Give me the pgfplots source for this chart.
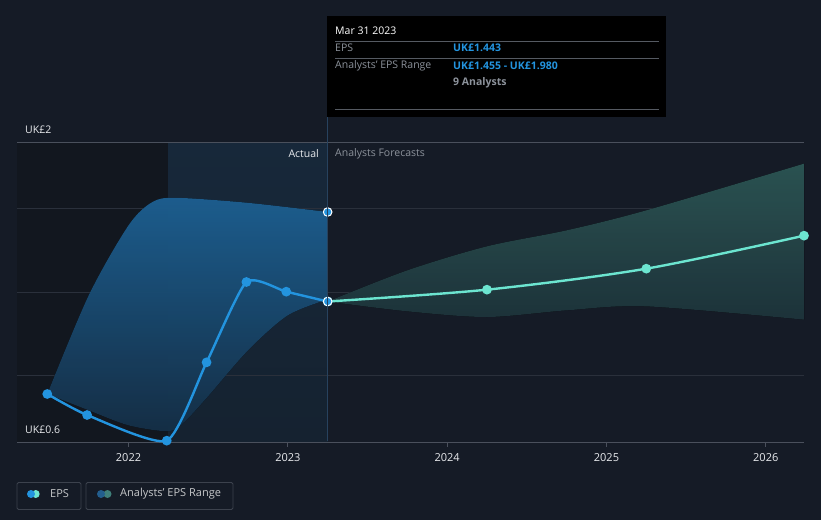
\documentclass[border=0pt]{standalone}
\usepackage{fontspec}
\setmainfont{Open Sans}
\usepackage{pgfplots}
\pgfplotsset{compat=1.18}
\usepgfplotslibrary{fillbetween}
\definecolor{bgc}{HTML}{151B26}
\definecolor{leftc}{HTML}{12171F}
\definecolor{hltop}{HTML}{17283A}
\definecolor{hlbot}{HTML}{152230}
\definecolor{gridc}{HTML}{2A303B}
\definecolor{axisc}{HTML}{4A505C}
\definecolor{epsblue}{HTML}{2394DF}
\definecolor{teal}{HTML}{6CE5D0}
\definecolor{bandtop}{HTML}{2069A0}
\definecolor{bandbot}{HTML}{17344E}
\definecolor{ftop}{HTML}{2F5B5A}
\definecolor{fbot}{HTML}{203840}
\definecolor{txtw}{HTML}{E8EAED}
\definecolor{txtg}{HTML}{8C929B}
\definecolor{vline}{HTML}{27425E}
\definecolor{legbox}{HTML}{3C424D}
\definecolor{legteal}{HTML}{3F7F7A}
\definecolor{legblue}{HTML}{235E8E}
\begin{document}
\pagecolor{bgc}%
\begin{tikzpicture}[x=1pt,y=1pt,font=\fontsize{10.5}{12}\selectfont]
\path (0,0) rectangle (821,520);
\begin{axis}[
  at={(17pt,78pt)}, anchor=south west, scale only axis,
  width=787pt, height=300pt,
  xmin=2021.30, xmax=2026.24, ymin=0.6, ymax=2.4,
  axis lines*=left,
  y axis line style={draw=none},
  x axis line style={axisc, line width=0.8pt},
  xtick={2022,2023,2024,2025,2026},
  xticklabels={2022,2023,2024,2025,2026},
  xtick style={axisc, line width=0.8pt},
  tick align=outside, major tick length=5pt,
  ytick={1,1.5,2}, yticklabels={},
  y tick style={/pgfplots/major tick length=0pt},
  extra y ticks={2.4}, extra y tick labels={},
  extra y tick style={grid style={axisc, line width=0.8pt}},
  ymajorgrids, grid style={gridc, line width=0.8pt},
  x tick label style={txtw, font=\fontsize{11}{13}\selectfont, yshift=-3pt},
  /pgf/number format/assume math mode=true,
  clip=true,
]
% background regions
\addplot[fill=leftc, draw=none, on layer=axis background] coordinates {
 (2021.30,0.6) (2022.25,0.6) (2022.25,2.4) (2021.30,2.4)};
\addplot[top color=hltop, bottom color=hlbot, draw=none, on layer=axis background] coordinates {
 (2022.25,0.6) (2023.25,0.6) (2023.25,2.4) (2022.25,2.4)};
% past range band
\addplot[name path=pu, draw=none, smooth] coordinates {
 (2021.49,0.888) (2021.75,1.48) (2022.0,1.90) (2022.15,2.04) (2022.3,2.065) (2022.75,2.035) (2023.25,1.98)};
\addplot[name path=pl, draw=none, smooth] coordinates {
 (2021.49,0.888) (2021.75,0.79) (2022.0,0.70) (2022.25,0.665) (2022.35,0.72) (2022.5,0.875) (2022.75,1.15) (2023.0,1.36) (2023.25,1.455)};
\addplot[top color=bandtop, bottom color=bandbot, fill opacity=0.88, draw=none] fill between[of=pu and pl];
% forecast band
\addplot[name path=fu, draw=none, smooth] coordinates {
 (2023.25,1.443) (2023.75,1.63) (2024.25,1.774) (2024.75,1.87) (2025.25,1.99) (2026.24,2.27)};
\addplot[name path=fl, draw=none, smooth] coordinates {
 (2023.25,1.443) (2023.75,1.384) (2024.25,1.35) (2024.75,1.39) (2025.25,1.414) (2026.24,1.334)};
\addplot[top color=ftop, bottom color=fbot, fill opacity=0.9, draw=none] fill between[of=fu and fl];
% forecast line
\addplot[teal, line width=2.4pt, smooth, mark=*, mark size=3.6pt, mark options={fill=teal, draw=none}] coordinates {
 (2023.25,1.443) (2024.25,1.514) (2025.25,1.640) (2026.24,1.838)};
% EPS line
\addplot[epsblue, line width=2.4pt, smooth, tension=0.35, mark=*, mark size=3.6pt, mark options={fill=epsblue, draw=none}] coordinates {
 (2021.49,0.888) (2021.74,0.762) (2022.24,0.608) (2022.49,1.078) (2022.74,1.560) (2022.99,1.502) (2023.25,1.443)};
% highlighted points
\addplot[only marks, mark=*, mark size=4.3pt, mark options={fill=epsblue, draw=white, line width=1pt}] coordinates {
 (2023.25,1.443) (2023.25,1.98)};
\end{axis}
% vertical marker line
\draw[vline, line width=1pt] (327,403) -- (327,79);
% y labels
\node[anchor=west, txtw, inner sep=0] at (25,390) {UK£2};
\node[anchor=west, txtw, inner sep=0] at (25,90) {UK£0.6};
\node[anchor=east, txtw, inner sep=0] at (319,366) {Actual};
\node[anchor=west, txtg, inner sep=0] at (335,366) {Analysts Forecasts};
% tooltip
\fill[black] (327,504) rectangle (666,403);
\draw[gridc!80!white, line width=0.6pt] (335,479) -- (659,479);
\draw[gridc!80!white, line width=0.6pt] (335,462) -- (659,462);
\draw[gridc!80!white, line width=0.6pt] (335,411) -- (659,411);
\node[anchor=west, white, inner sep=0] at (335,489) {Mar 31 2023};
\node[anchor=west, txtg, inner sep=0] at (335,472) {EPS};
\node[anchor=west, epsblue, inner sep=0] at (453,472) {\bfseries UK£1.443};
\node[anchor=west, txtg, inner sep=0] at (335,454) {Analysts' EPS Range};
\node[anchor=west, epsblue, inner sep=0] at (453,454) {\bfseries UK£1.455 - UK£1.980};
\node[anchor=west, txtg, inner sep=0] at (453,437) {\bfseries 9 Analysts};
% legend
\draw[legbox, rounded corners=1.5pt, line width=0.8pt] (17,37.5) rectangle (81,10.5);
\fill[teal] (35.7,26) circle (4pt);
\fill[epsblue] (31,26) circle (4pt);
\node[anchor=west, txtw!85!black, inner sep=0, font=\fontsize{11}{13}\selectfont] at (50,26) {EPS};
\draw[legbox, rounded corners=1.5pt, line width=0.8pt] (86,37.5) rectangle (233,10.5);
\fill[legteal] (107.5,26) circle (4pt);
\fill[legblue] (101,26) circle (4pt);
\node[anchor=west, txtw!85!black, inner sep=0, font=\fontsize{11}{13}\selectfont] at (120,26) {Analysts' EPS Range};
\end{tikzpicture}
\end{document}
